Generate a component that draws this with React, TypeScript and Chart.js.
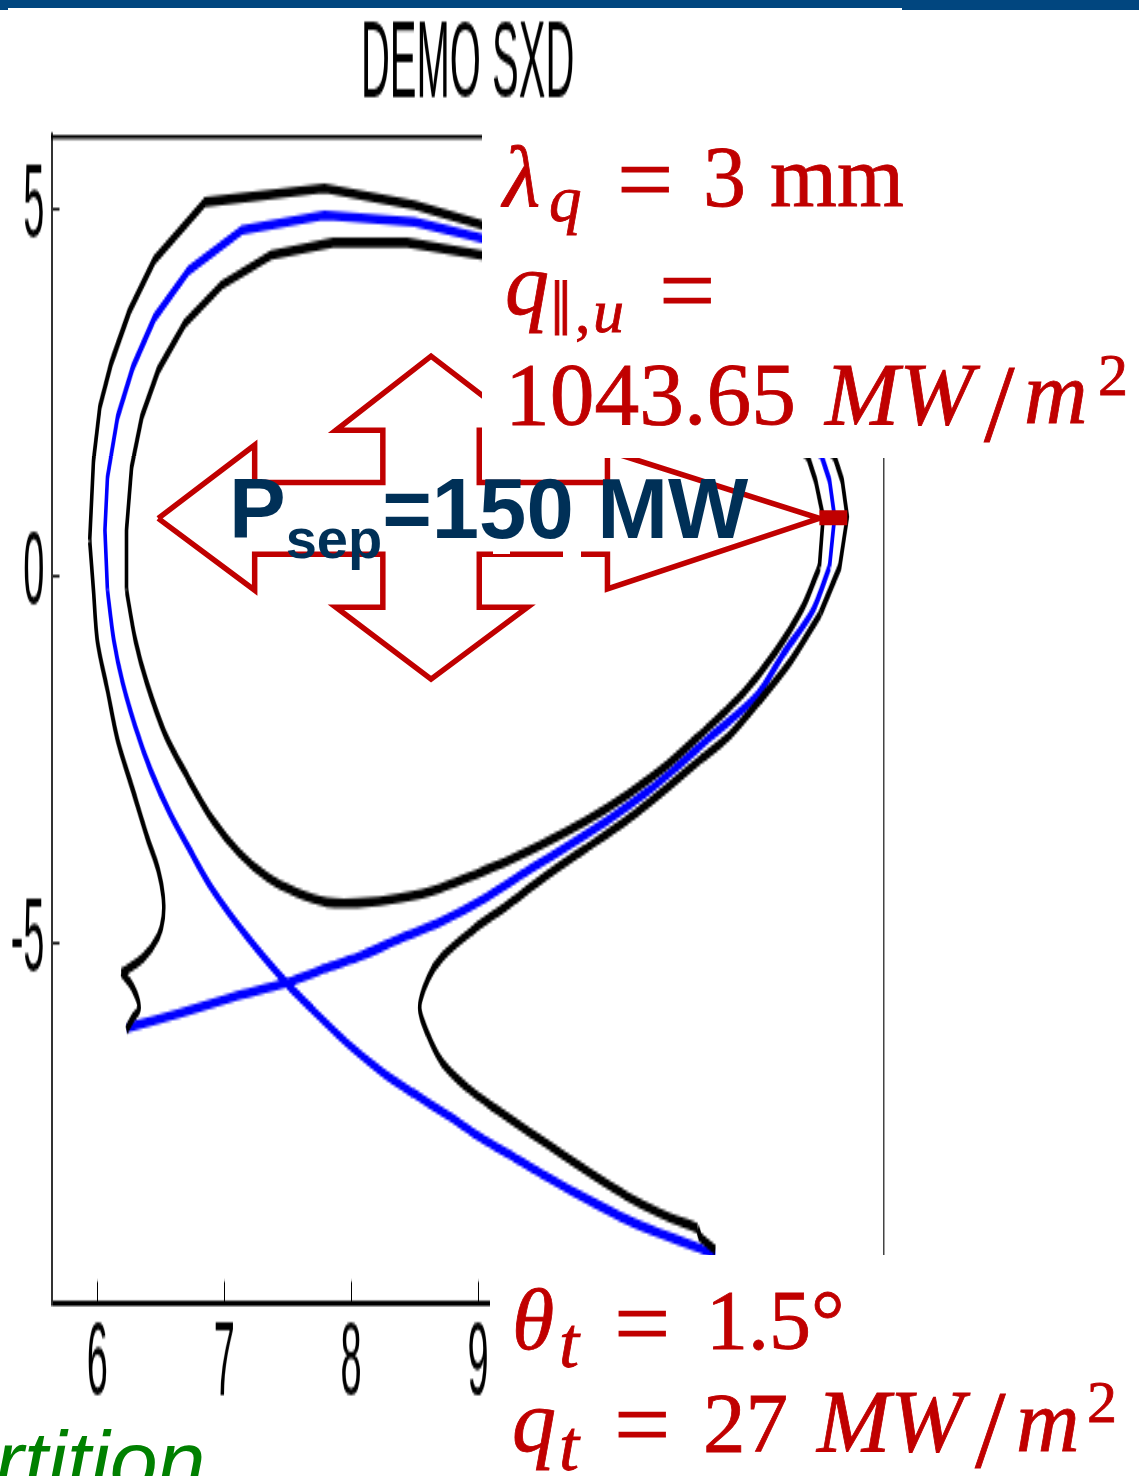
import React, { useEffect, useRef } from "react";
import { Chart, registerables } from "chart.js";

Chart.register(...registerables);

const chartTitle = "DEMO SXD";
const xTickValues = [6, 7, 8, 9];
const yTickValues = [-5, 0, 5];

const outerR = [6.23, 6.28, 6.33, 6.28, 6.19, 6.36, 6.48, 6.52, 6.52, 6.48, 6.4, 6.28, 6.16, 6.08, 6.0, 5.97, 5.94, 5.97, 6.02, 6.11, 6.25, 6.45, 6.85, 7.79, 8.5, 9.03, 9.65, 10.28, 10.91, 11.46, 11.81, 11.87, 11.91, 11.85, 11.7, 11.47, 11.22, 10.97, 10.75, 10.49, 10.17, 9.83, 9.51, 9.23, 8.96, 8.72, 8.61, 8.54, 8.6, 8.72, 8.91, 9.15, 9.41, 9.67, 9.91, 10.17, 10.43, 10.73, 10.75, 10.87];
const outerZ = [-6.18, -6.02, -5.87, -5.6, -5.4, -5.2, -4.91, -4.64, -4.37, -4.0, -3.59, -2.91, -2.23, -1.55, -0.87, -0.19, 0.49, 1.58, 2.31, 2.91, 3.6, 4.31, 5.1, 5.29, 5.06, 4.79, 4.49, 4.04, 3.36, 2.4, 1.63, 1.31, 0.81, 0.13, -0.5, -1.14, -1.69, -2.19, -2.5, -2.88, -3.32, -3.73, -4.11, -4.48, -4.82, -5.18, -5.47, -5.87, -6.22, -6.63, -6.96, -7.27, -7.58, -7.88, -8.16, -8.44, -8.67, -8.88, -9.0, -9.18];
const outerParts = [[0, 4, 0.4], [4, 16, 0.3], [16, 34, 0], [34, 57, 0.3], [57, 59, 0]];

const blueR = [6.23, 6.65, 7.07, 7.49, 7.83, 8.09, 8.39, 8.7, 9.07, 9.43, 9.75, 10.06, 10.33, 10.54, 10.83, 11.2, 11.4, 11.64, 11.77, 11.81, 11.77, 11.71, 11.38, 10.83, 10.2, 9.57, 9.03, 8.5, 7.79, 7.14, 6.72, 6.45, 6.28, 6.16, 6.08, 6.06, 6.08, 6.13, 6.2, 6.3, 6.42, 6.57, 6.73, 6.91, 7.19, 7.49, 7.7, 7.97, 8.23, 8.49, 8.76, 9.02, 9.28, 9.54, 9.91, 10.17, 10.43, 10.73, 10.87];
const blueZ = [-6.15, -5.95, -5.73, -5.54, -5.32, -5.16, -4.93, -4.71, -4.37, -3.97, -3.63, -3.28, -2.94, -2.64, -2.19, -1.62, -1.07, -0.46, 0.13, 0.81, 1.31, 1.63, 2.4, 3.29, 3.97, 4.38, 4.61, 4.83, 4.92, 4.72, 4.17, 3.52, 2.85, 2.17, 1.35, 0.63, -0.19, -0.87, -1.45, -2.05, -2.64, -3.22, -3.73, -4.27, -4.93, -5.54, -5.91, -6.36, -6.73, -7.04, -7.34, -7.64, -7.91, -8.18, -8.53, -8.76, -8.95, -9.14, -9.25];
const blueParts = [[0, 18, 0.3], [18, 36, 0], [36, 58, 0.3]];

const innerR = [11.6, 11.38, 10.91, 10.28, 9.65, 9.03, 8.44, 7.86, 7.37, 6.98, 6.69, 6.48, 6.35, 6.27, 6.23, 6.23, 6.3, 6.39, 6.53, 6.71, 6.91, 7.12, 7.34, 7.57, 7.81, 8.05, 8.39, 8.7, 9.12, 9.49, 9.83, 10.17, 10.49, 10.75, 11.09, 11.34, 11.56, 11.69, 11.72, 11.66, 11.6];
const innerZ = [1.63, 2.06, 2.74, 3.49, 4.04, 4.38, 4.55, 4.55, 4.38, 3.97, 3.45, 2.81, 2.17, 1.49, 0.63, -0.19, -0.87, -1.45, -2.13, -2.73, -3.32, -3.77, -4.1, -4.31, -4.44, -4.45, -4.38, -4.25, -3.96, -3.66, -3.35, -2.98, -2.57, -2.16, -1.59, -1.04, -0.42, 0.13, 0.81, 1.31, 1.63];
const innerParts = [[0, 15, 0], [15, 37, 0.3], [37, 40, 0]];

const arrowR = [6.48, 7.24, 7.24, 8.25, 8.25, 7.88, 8.63, 9.39, 9.01, 9.01, 10.02, 10.02, 11.69, 10.02, 10.02, 9.01, 9.01, 9.39, 8.63, 7.88, 8.25, 8.25, 7.24, 7.24, 6.48];
const arrowZ = [0.79, 1.79, 1.28, 1.28, 1.99, 1.99, 3.0, 1.99, 1.99, 1.28, 1.28, 1.71, 0.79, -0.17, 0.3, 0.3, -0.42, -0.42, -1.4, -0.42, -0.42, 0.3, 0.3, -0.19, 0.79];
const spotR = [11.69, 11.91];
const spotZ = [0.8, 0.8];

const xMin = 5.639;
const xMax = 12.197;
const yMin = -9.914;
const yMax = 6.0;

const WIDTH = 1139;
const HEIGHT = 1476;
const SQUASHED = 547;
const STRETCH = HEIGHT / SQUASHED;
const RED = "#c00000";
const SERIF = '"Liberation Serif", serif';
const SANS = '"Liberation Sans", Arial, sans-serif';

const zip = (xs: number[], ys: number[]) => xs.map((x, i) => ({ x, y: ys[i] }));

function Red(props: { x: number; base: number; size: number; italic?: boolean; children: React.ReactNode }) {
  const { x, base, size, italic, children } = props;
  return (
    <div
      style={{
        position: "absolute",
        left: x,
        top: base - 0.3375 * size,
        lineHeight: 0,
        fontFamily: SERIF,
        fontSize: size,
        fontStyle: italic ? "italic" : "normal",
        color: RED,
        whiteSpace: "nowrap",
        WebkitTextStroke: `0.8px ${RED}`,
      }}
    >
      {children}
    </div>
  );
}

function Box(props: { x: number; y: number; w: number; h: number; c?: string }) {
  return (
    <div
      style={{
        position: "absolute",
        left: props.x,
        top: props.y,
        width: props.w,
        height: props.h,
        background: props.c || "#fff",
      }}
    />
  );
}

export default function App() {
  const mainRef = useRef<HTMLCanvasElement>(null);
  const arrowRef = useRef<HTMLCanvasElement>(null);

  useEffect(() => {
    const line = (data: { x: number; y: number }[], color: string, width: number, tension = 0) => ({
      data,
      borderColor: color,
      borderWidth: width,
      pointRadius: 0,
      tension,
      fill: false,
      showLine: true,
      borderJoinStyle: "miter" as const,
    });
    const parts = (xs: number[], ys: number[], ranges: number[][], color: string, width: number) =>
      ranges.map(([a, b, t]) => line(zip(xs, ys).slice(a, b + 1), color, width, t));

    const main = new Chart(mainRef.current as HTMLCanvasElement, {
      type: "scatter",
      data: {
        datasets: [
          ...parts(outerR, outerZ, outerParts, "#000000", 3.6),
          ...parts(innerR, innerZ, innerParts, "#000000", 3.6),
          ...parts(blueR, blueZ, blueParts, "#0000ff", 3.6),
        ],
      },
      options: {
        animation: false,
        responsive: false,
        devicePixelRatio: 1,
        layout: { padding: { left: 0, right: WIDTH - 883.7, top: 0, bottom: 0 } },
        plugins: {
          legend: { display: false },
          tooltip: { enabled: false },
          title: {
            display: true,
            text: chartTitle,
            fullSize: false,
            color: "#000",
            font: { family: SANS, size: 40, weight: "normal", lineHeight: 1 },
            padding: { top: 4.6, bottom: 5.8 },
          },
        },
        scales: {
          x: {
            type: "linear",
            position: "bottom",
            min: xMin,
            max: xMax,
            afterBuildTicks: (s: any) => {
              s.ticks = xTickValues.map((value) => ({ value }));
            },
            afterFit: (s: any) => {
              s.height = SQUASHED - 1304 / STRETCH;
            },
            border: { color: "#000", width: 1.9 },
            grid: { drawOnChartArea: false, tickLength: -8.5, tickColor: "#000", tickWidth: 1 },
            ticks: {
              color: "#000",
              font: { family: SANS, size: 38 },
              padding: 9,
              maxRotation: 0,
              autoSkip: false,
            },
          },
          y: {
            type: "linear",
            position: "left",
            min: yMin,
            max: yMax,
            afterBuildTicks: (s: any) => {
              s.ticks = yTickValues.map((value) => ({ value }));
            },
            afterFit: (s: any) => {
              s.width = 51.5;
            },
            border: { color: "#333", width: 2 },
            grid: { drawOnChartArea: false, tickLength: -8, tickColor: "#000", tickWidth: 1 },
            ticks: {
              color: "#000",
              font: { family: SANS, size: 38 },
              padding: 15,
              autoSkip: false,
            },
          },
          top: {
            type: "linear",
            position: "top",
            min: xMin,
            max: xMax,
            afterBuildTicks: (s: any) => {
              s.ticks = [];
            },
            afterFit: (s: any) => {
              s.height = 0;
            },
            border: { color: "#000", width: 1.6 },
            grid: { drawOnChartArea: false, drawTicks: false },
            ticks: { display: false },
          },
          right: {
            type: "linear",
            position: "right",
            min: yMin,
            max: yMax,
            afterBuildTicks: (s: any) => {
              s.ticks = [];
            },
            afterFit: (s: any) => {
              s.width = 0;
            },
            border: { color: "#444", width: 1.5 },
            grid: { drawOnChartArea: false, drawTicks: false },
            ticks: { display: false },
          },
        },
      } as any,
    });

    const arrow = new Chart(arrowRef.current as HTMLCanvasElement, {
      type: "scatter",
      data: {
        datasets: [line(zip(arrowR, arrowZ), RED, 5.5), line(zip(spotR, spotZ), RED, 15)],
      },
      options: {
        animation: false,
        responsive: false,
        devicePixelRatio: 1,
        layout: { padding: { left: 51.5, right: WIDTH - 883.7, top: 136, bottom: HEIGHT - 1304 } },
        plugins: { legend: { display: false }, tooltip: { enabled: false } },
        scales: {
          x: { type: "linear", display: false, min: xMin, max: xMax },
          y: { type: "linear", display: false, min: yMin, max: yMax },
        },
      } as any,
    });

    return () => {
      main.destroy();
      arrow.destroy();
    };
  }, []);

  return (
    <div
      style={{
        position: "fixed",
        left: 0,
        top: 0,
        width: WIDTH,
        height: HEIGHT,
        overflow: "hidden",
        background: "#fff",
      }}
    >
      <div
        style={{
          position: "absolute",
          left: 0,
          top: 0,
          width: WIDTH,
          height: SQUASHED,
          transform: `scaleY(${STRETCH})`,
          transformOrigin: "0 0",
        }}
      >
        <canvas ref={mainRef} width={WIDTH} height={SQUASHED} style={{ display: "block" }} />
      </div>
      <canvas
        ref={arrowRef}
        width={WIDTH}
        height={HEIGHT}
        style={{ position: "absolute", left: 0, top: 0, display: "block" }}
      />

      <Box x={482} y={115} w={657} h={343} />
      <Box x={490} y={1255} w={649} h={221} />
      <Box x={563} y={550} w={18} h={9} />
      <Box x={493} y={551} w={17} h={3} />

      <Box x={0} y={0} w={WIDTH} h={8} c="#01467f" />
      <Box x={0} y={0} w={8} h={10} c="#01467f" />
      <Box x={902} y={0} w={237} h={10} c="#01467f" />

      <div
        style={{
          position: "absolute",
          left: 229,
          top: 466,
          fontFamily: SANS,
          fontWeight: "bold",
          fontSize: 85,
          lineHeight: 1,
          color: "#003057",
          whiteSpace: "nowrap",
        }}
      >
        P<span style={{ fontSize: 56, position: "relative", top: 20 }}>sep</span>=150 MW
      </div>

      <Red x={503} base={206} size={86} italic>λ</Red>
      <Red x={549} base={221} size={65} italic>q</Red>
      <Red x={617} base={214} size={100}>=</Red>
      <Red x={703} base={206} size={86}>3</Red>
      <Red x={770} base={206} size={86}>mm</Red>

      <Red x={505} base={315} size={88} italic>q</Red>
      <Red x={550} base={335} size={78}>‖</Red>
      <Red x={575} base={332} size={62}>,</Red>
      <Red x={593} base={332} size={62} italic>u</Red>
      <Red x={659} base={325} size={100}>=</Red>

      <Red x={505} base={424} size={89.5}>1043.65</Red>
      <Red x={825} base={424} size={89} italic>MW</Red>
      <Red x={984} base={441} size={110}>/</Red>
      <Red x={1024} base={424} size={88} italic>m</Red>
      <Red x={1098} base={395} size={60}>2</Red>

      <Red x={512} base={1349} size={86} italic>θ</Red>
      <Red x={559} base={1367} size={72} italic>t</Red>
      <Red x={614} base={1358} size={100}>=</Red>
      <Red x={706} base={1349} size={84}>1.5°</Red>

      <Red x={512} base={1452} size={88} italic>q</Red>
      <Red x={559} base={1470} size={72} italic>t</Red>
      <Red x={614} base={1459} size={100}>=</Red>
      <Red x={703} base={1452} size={85}>27</Red>
      <Red x={817} base={1452} size={88} italic>MW</Red>
      <Red x={975} base={1467} size={110}>/</Red>
      <Red x={1016} base={1452} size={88} italic>m</Red>
      <Red x={1087} base={1422} size={60}>2</Red>

      <div
        style={{
          position: "absolute",
          left: -5,
          top: 1491 - 0.3465 * 86,
          lineHeight: 0,
          fontFamily: SANS,
          fontStyle: "italic",
          fontSize: 86,
          color: "#008000",
          whiteSpace: "nowrap",
        }}
      >
        rtition
      </div>
    </div>
  );
}
